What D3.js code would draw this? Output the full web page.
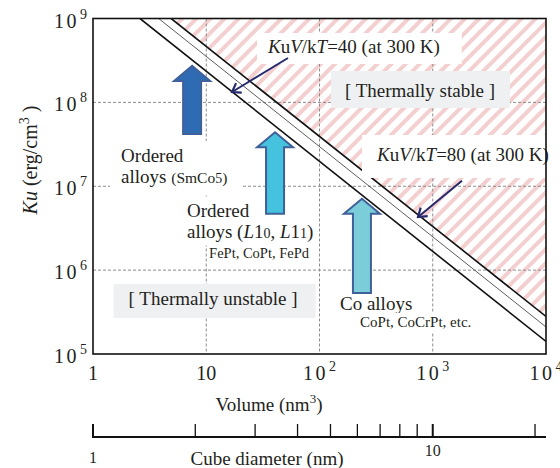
<!DOCTYPE html>
<html>
<head>
<meta charset="utf-8">
<script src="https://cdn.jsdelivr.net/npm/d3@7"></script>
<style>
  body { margin: 0; background: #fff; }
  svg { display: block; font-family: "Liberation Serif", "Times New Roman", serif; }
</style>
</head>
<body>
<div id="chart"></div>
<script>
// ---- data ----
var volTicks = [1, 10, 100, 1000, 10000];
var kuTicks = [1e5, 1e6, 1e7, 1e8, 1e9];
var gridVol = [10, 100, 1000];
var gridKu = [1e6, 1e7, 1e8];
var diamTicks = [1, 2, 3, 4, 5, 6, 7, 8, 9, 10, 20];
var diamLabels = [1, 10];

// KuV/kT boundary lines, [volume (nm3), Ku (erg/cm3)]
var line40 = [[2.6, 1e9], [1e4, 1.41e5]];
var lineMid = [[3.8, 1e9], [1e4, 2.1e5]];
var line80 = [[4.9, 1e9], [1e4, 2.8e5]];

// material ranges drawn as block arrows: volume, Ku bottom, Ku top
var matArrows = [
  { v: 7.5, from: 4.2e7, to: 2.72e8, fill: "#2f6bb3" },
  { v: 40.5, from: 4.7e6, to: 4.4e7, fill: "#45c2de" },
  { v: 237, from: 5.35e5, to: 7.1e6, fill: "#7acdd9" }
];

// pointer arrows from the labels to the lines
var pointers = [
  { from: [52.7, 3.38e8], to: [16.9, 1.33e8] },
  { from: [1812, 1.16e7], to: [741, 4.3e6] }
];

// set the dimensions and margins of the graph
var W = 560, H = 468;
var margin = { top: 18.5, right: 14, bottom: 114, left: 93 };
var width = W - margin.left - margin.right,
    height = H - margin.top - margin.bottom;

var svg = d3.select("#chart")
  .append("svg")
  .attr("width", W)
  .attr("height", H);

var x = d3.scaleLog().domain([1, 1e4]).range([margin.left, margin.left + width]);
var y = d3.scaleLog().domain([1e5, 1e9]).range([margin.top + height, margin.top]);
// cube diameter d -> volume d^3, same pixel range
var xd = d3.scaleLog().domain([1, Math.cbrt(1e4)]).range([margin.left, margin.left + width]);

var defs = svg.append("defs");
defs.append("clipPath").attr("id", "plot")
  .append("rect")
  .attr("x", margin.left).attr("y", margin.top)
  .attr("width", width).attr("height", height);

var hatch = defs.append("pattern")
  .attr("id", "hatch")
  .attr("patternUnits", "userSpaceOnUse")
  .attr("width", 10).attr("height", 10)
  .attr("patternTransform", "rotate(45)");
hatch.append("rect").attr("width", 4).attr("height", 10).attr("fill", "#f4cfcf");

defs.append("marker")
  .attr("id", "head")
  .attr("markerUnits", "userSpaceOnUse")
  .attr("viewBox", "-10 -7 12 14")
  .attr("markerWidth", 12).attr("markerHeight", 14)
  .attr("refX", 0).attr("refY", 0)
  .attr("orient", "auto")
  .append("path")
  .attr("d", "M-8,-5.5L0,0L-8,5.5")
  .attr("fill", "none")
  .attr("stroke", "#252a6c")
  .attr("stroke-width", 2.2);

var plot = svg.append("g").attr("clip-path", "url(#plot)");

// thermally stable region (above the KuV/kT=80 line)
plot.append("path")
  .datum([line80[0], [1e4, 1e9], line80[1]])
  .attr("fill", "url(#hatch)")
  .attr("d", d3.line().x(function (d) { return x(d[0]); }).y(function (d) { return y(d[1]); }));

// grid
plot.selectAll(".gx").data(gridVol).enter().append("line")
  .attr("x1", function (d) { return x(d); }).attr("x2", function (d) { return x(d); })
  .attr("y1", margin.top).attr("y2", margin.top + height)
  .attr("stroke", "#8c8c8c").attr("stroke-width", 1).attr("stroke-dasharray", "3,2");
plot.selectAll(".gy").data(gridKu).enter().append("line")
  .attr("y1", function (d) { return y(d); }).attr("y2", function (d) { return y(d); })
  .attr("x1", margin.left).attr("x2", margin.left + width)
  .attr("stroke", "#8c8c8c").attr("stroke-width", 1).attr("stroke-dasharray", "3,2");

// boundary lines
var lineGen = d3.line().x(function (d) { return x(d[0]); }).y(function (d) { return y(d[1]); });
plot.append("path").datum(line40).attr("d", lineGen).attr("stroke", "#111").attr("stroke-width", 1.6).attr("fill", "none");
plot.append("path").datum(lineMid).attr("d", lineGen).attr("stroke", "#333").attr("stroke-width", 0.8).attr("fill", "none");
plot.append("path").datum(line80).attr("d", lineGen).attr("stroke", "#111").attr("stroke-width", 1.6).attr("fill", "none");

// text annotations, each a group of lines; pad = [top, right, bottom, left]
var notes = [
  { v: 35.1, ku: 3.88e8, bg: "#fff", pad: [3, 22, 6, 10], lines: [
      [{ t: "K", i: 1 }, { t: "u" }, { t: "V", i: 1 }, { t: "/k" }, { t: "T", i: 1 }, { t: "=40 (at 300 K)" }]] },
  { v: 771, ku: 1.16e8, bg: "#eff0f2", anchor: "middle", pad: [9, 15, 7, 14], lines: [
      [{ t: "[ Thermally stable ]" }]] },
  { v: 322, ku: 2.0e7, bg: "#fff", pad: [9, 2, 12, 14], lines: [
      [{ t: "K", i: 1 }, { t: "u" }, { t: "V", i: 1 }, { t: "/k" }, { t: "T", i: 1 }, { t: "=80 (at 300 K)" }]] },
  { v: 1.77, ku: 1.95e7, bg: "#fff", pad: [4, 15, 8, 11], lines: [
      [{ t: "Ordered" }],
      [{ t: "alloys " }, { t: "(SmCo", s: 15.5 }, { t: "5", s: 14 }, { t: ")", s: 15.5 }]] },
  { v: 6.76, ku: 4.31e6, bg: "#fff", pad: [3, 3, 2, 3], lines: [
      [{ t: "Ordered" }],
      [{ t: "alloys (" }, { t: "L", i: 1 }, { t: "1" }, { t: "0", s: 14 }, { t: ", " }, { t: "L", i: 1 }, { t: "1" }, { t: "1", s: 14 }, { t: ")" }]] },
  { v: 10.6, ku: 1.40e6, bg: "#fff", pad: [1, 3, 2, 2], size: 14.5, lines: [
      [{ t: "FePt, CoPt, FePd" }]] },
  { v: 11.5, ku: 3.85e5, bg: "#eff0f2", anchor: "middle", pad: [4, 18, 9, 15], lines: [
      [{ t: "[ Thermally unstable ]" }]] },
  { v: 151.7, ku: 3.36e5, bg: "#fff", pad: [1, 3, 1, 3], lines: [
      [{ t: "Co alloys" }]] },
  { v: 228, ku: 2.1e5, bg: "#fff", pad: [1, 3, 2, 3], size: 15, lines: [
      [{ t: "CoPt, CoCrPt, etc." }]] }
];

var noteLayer = svg.append("g");
notes.forEach(function (n) {
  var g = noteLayer.append("g");
  var bgRect = g.append("rect").attr("fill", n.bg);
  var txt = g.append("text")
    .attr("x", x(n.v)).attr("y", y(n.ku))
    .attr("font-size", n.size || 19)
    .attr("fill", "#231f20")
    .attr("text-anchor", n.anchor || "start");
  n.lines.forEach(function (ln, li) {
    ln.forEach(function (p, pi) {
      var ts = txt.append("tspan").text(p.t);
      if (pi === 0) ts.attr("x", x(n.v)).attr("dy", li === 0 ? 0 : 21.5);
      if (p.i) ts.attr("font-style", "italic");
      if (p.s) ts.attr("font-size", p.s);
    });
  });
  var b = txt.node().getBBox();
  bgRect.attr("x", b.x - n.pad[3]).attr("y", b.y - n.pad[0])
    .attr("width", b.width + n.pad[1] + n.pad[3])
    .attr("height", b.height + n.pad[0] + n.pad[2]);
});

// material block arrows
var shaft = 9, headW = 18, headL = 15;
svg.append("g").selectAll("path").data(matArrows).enter().append("path")
  .attr("d", function (d) {
    var cx = x(d.v), yb = y(d.from), yt = y(d.to), yh = yt + headL;
    return "M" + (cx - shaft) + "," + yb + "L" + (cx - shaft) + "," + yh +
      "L" + (cx - headW) + "," + yh + "L" + cx + "," + yt +
      "L" + (cx + headW) + "," + yh + "L" + (cx + shaft) + "," + yh +
      "L" + (cx + shaft) + "," + yb + "Z";
  })
  .attr("fill", function (d) { return d.fill; })
  .attr("stroke", "#40609a")
  .attr("stroke-width", 2)
  .attr("stroke-linejoin", "miter");

// pointer arrows
svg.append("g").selectAll("line").data(pointers).enter().append("line")
  .attr("x1", function (d) { return x(d.from[0]); }).attr("y1", function (d) { return y(d.from[1]); })
  .attr("x2", function (d) { return x(d.to[0]); }).attr("y2", function (d) { return y(d.to[1]); })
  .attr("stroke", "#252a6c").attr("stroke-width", 2)
  .attr("marker-end", "url(#head)");

// frame
svg.append("rect")
  .attr("x", margin.left).attr("y", margin.top)
  .attr("width", width).attr("height", height)
  .attr("fill", "none").attr("stroke", "#111").attr("stroke-width", 1.6);

// tick labels
function expLabel(sel, v, plainUpTo) {
  var e = Math.round(Math.log10(v));
  if (e <= plainUpTo) { sel.append("tspan").text(e === 0 ? "1" : "10"); return; }
  sel.append("tspan").attr("letter-spacing", 2.5).text("10");
  sel.append("tspan").attr("dx", 1).attr("dy", -9).attr("font-size", 14).text(e);
}

svg.append("g").selectAll("text").data(kuTicks).enter().append("text")
  .attr("x", 54).attr("y", function (d) { return y(d) + 9; })
  .attr("font-size", 20).attr("fill", "#231f20")
  .each(function (d) { expLabel(d3.select(this), d, -1); });

svg.append("g").selectAll("text").data(volTicks).enter().append("text")
  .attr("x", function (d) { return x(d); }).attr("y", 380)
  .attr("text-anchor", "middle")
  .attr("font-size", 20).attr("fill", "#231f20")
  .each(function (d) { expLabel(d3.select(this), d, 1); });

// axis titles
var yTitle = svg.append("text")
  .attr("transform", "translate(37," + 160 + ") rotate(-90)")
  .attr("text-anchor", "middle").attr("font-size", 20).attr("fill", "#231f20");
yTitle.append("tspan").attr("font-style", "italic").text("Ku");
yTitle.append("tspan").text(" (erg/cm");
yTitle.append("tspan").attr("dy", -8).attr("font-size", 14).text("3");
yTitle.append("tspan").attr("dy", 8).text(" )");

var xTitle = svg.append("text")
  .attr("x", 269).attr("y", 411)
  .attr("text-anchor", "middle").attr("font-size", 19).attr("fill", "#231f20");
xTitle.append("tspan").text("Volume (nm");
xTitle.append("tspan").attr("dy", -8).attr("font-size", 13).text("3");
xTitle.append("tspan").attr("dy", 8).text(")");

// cube diameter axis
var dAxisY = 437;
svg.append("line")
  .attr("x1", xd(1) - 1).attr("x2", xd(Math.cbrt(1e4)))
  .attr("y1", dAxisY).attr("y2", dAxisY)
  .attr("stroke", "#111").attr("stroke-width", 2);
svg.append("g").selectAll("line").data(diamTicks).enter().append("line")
  .attr("x1", function (d) { return xd(d); }).attr("x2", function (d) { return xd(d); })
  .attr("y1", dAxisY).attr("y2", dAxisY - 13)
  .attr("stroke", "#111")
  .attr("stroke-width", function (d) { return d === 1 || d === 10 ? 2 : 1.3; });
svg.append("g").selectAll("text").data(diamLabels).enter().append("text")
  .attr("x", function (d) { return xd(d); })
  .attr("y", function (d) { return d === 1 ? 463 : 456; })
  .attr("text-anchor", "middle").attr("font-size", 16).attr("fill", "#231f20")
  .text(function (d) { return d; });
svg.append("text")
  .attr("x", 267).attr("y", 465)
  .attr("text-anchor", "middle").attr("font-size", 19).attr("fill", "#231f20")
  .text("Cube diameter (nm)");
</script>
</body>
</html>
